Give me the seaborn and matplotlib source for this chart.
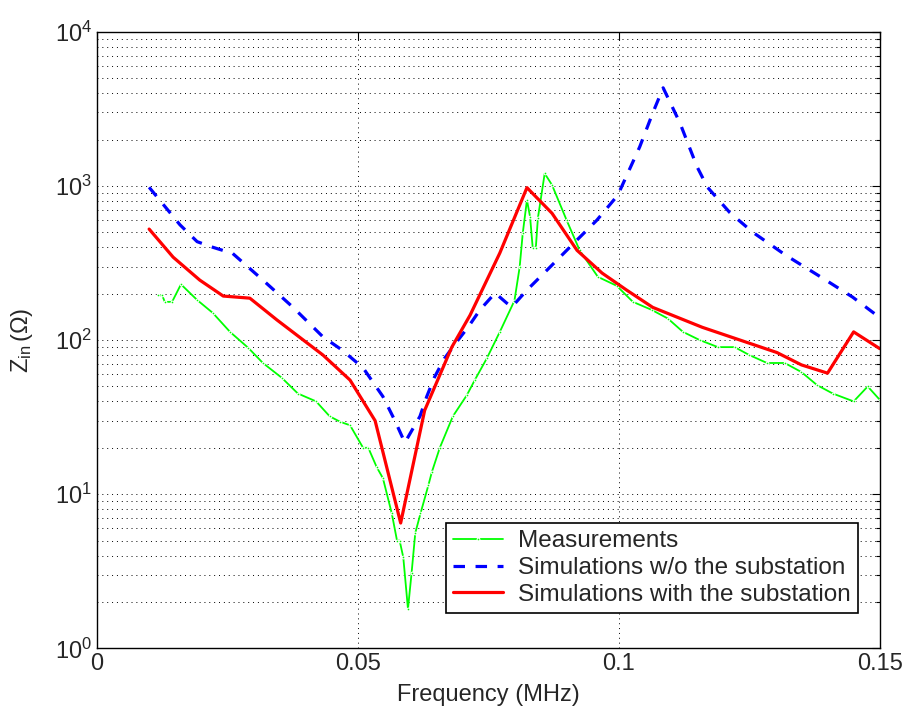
import numpy as np
import pandas as pd
import seaborn as sns
import matplotlib
matplotlib.use("Agg")
import matplotlib.pyplot as plt
from matplotlib.ticker import FixedLocator, LogLocator, NullFormatter

# Measured input impedance (MHz, Ohm)
meas_f = [0.0117, 0.0125, 0.0130, 0.0144, 0.0161, 0.0192, 0.0222, 0.0255, 0.0290,
          0.0318, 0.0354, 0.0385, 0.0420, 0.0446, 0.0466, 0.0485, 0.0510, 0.0520,
          0.0536, 0.0548, 0.0565, 0.0575, 0.0580, 0.0587, 0.0596, 0.0603, 0.0610,
          0.0620, 0.0635, 0.0642, 0.0657, 0.0682, 0.0709, 0.0724, 0.0747, 0.0772,
          0.0800, 0.0810, 0.0816, 0.0824, 0.0830, 0.0835, 0.0841, 0.0845, 0.0858,
          0.0872, 0.0900, 0.0925, 0.0960, 0.0996, 0.1027, 0.1063, 0.1094, 0.1123,
          0.1155, 0.1190, 0.1222, 0.1250, 0.1284, 0.1318, 0.1350, 0.1380, 0.1410,
          0.1450, 0.1477, 0.1500]
meas_z = [195, 195, 177, 177, 230, 182, 150, 113, 89,
          71, 57, 45, 40, 32, 29.5, 28, 20, 20,
          15, 12.7, 7.5, 5.0, 5.0, 3.9, 1.8, 3.1, 5.6,
          7.5, 11.4, 14, 20, 32, 44, 55, 76, 113,
          180, 297, 495, 810, 630, 398, 398, 620, 1205,
          1015, 600, 382, 257, 225, 177, 157, 138, 113,
          100, 90, 90, 80, 71, 71, 62, 51, 45,
          40, 50, 41]

# Simulation without the substation
sim_wo_f = [0.0100, 0.0159, 0.0192, 0.0222, 0.0260, 0.0318, 0.0375, 0.0433, 0.0470,
            0.0510, 0.0548, 0.0571, 0.0590, 0.0619, 0.0632, 0.0647, 0.0666, 0.0689,
            0.0711, 0.0734, 0.0763, 0.0785, 0.0795, 0.0824, 0.0868, 0.0906, 0.0958,
            0.0998, 0.1040, 0.1065, 0.1085, 0.1117, 0.1150, 0.1170, 0.1213, 0.1257,
            0.1320, 0.1390, 0.1448, 0.1500]
sim_wo_z = [980, 560, 435, 400, 365, 245, 164, 105, 86,
            66, 43, 30, 21.6, 32, 43, 57.6, 76, 97,
            121, 157, 202, 174, 164, 211, 297, 400, 600,
            870, 1790, 2970, 4330, 2570, 1330, 980, 670, 500,
            355, 253, 190, 140]

# Simulation with the substation
sim_w_f = [0.0100, 0.0146, 0.0197, 0.0242, 0.0293, 0.0345, 0.0433, 0.0485, 0.0533,
           0.0582, 0.0628, 0.0680, 0.0715, 0.0772, 0.0824, 0.0872, 0.0920, 0.0968,
           0.1015, 0.1065, 0.1160, 0.1303, 0.1350, 0.1400, 0.1450, 0.1500]
sim_w_z = [525, 345, 245, 193, 187, 135, 80, 55, 30,
           6.5, 35, 90, 145, 367, 975, 665, 382, 272,
           211, 163, 121, 83, 69, 61, 113, 88]

sns.set_style("white")
plt.rcParams["font.family"] = ["Liberation Sans", "DejaVu Sans"]
plt.rcParams["mathtext.fontset"] = "custom"
plt.rcParams["mathtext.rm"] = "Liberation Sans"
plt.rcParams["mathtext.it"] = "Liberation Sans:italic"

fig = plt.figure(figsize=(9.06, 7.07), dpi=100)
ax = fig.add_axes([0.107, 0.083, 0.864, 0.872])

sns.lineplot(x=meas_f, y=meas_z, ax=ax, color=(0, 1, 0), lw=1.3,
             marker=".", markersize=4, label="Measurements",
             sort=False, estimator=None)
sns.lineplot(x=sim_wo_f, y=sim_wo_z, ax=ax, color=(0, 0, 1), lw=2.3,
             label="Simulations w/o the substation",
             sort=False, estimator=None)
ax.lines[-1].set_linestyle((0, (3.6, 3.3)))
sns.lineplot(x=sim_w_f, y=sim_w_z, ax=ax, color=(1, 0, 0), lw=2.3,
             label="Simulations with the substation",
             sort=False, estimator=None)

ax.set_yscale("log")
ax.set_xlim(0, 0.15)
ax.set_ylim(1, 1e4)
ax.xaxis.set_major_locator(FixedLocator([0, 0.05, 0.1, 0.15]))
ax.set_xticklabels(["0", "0.05", "0.1", "0.15"])
ax.yaxis.set_major_locator(LogLocator(base=10, numticks=10))
ax.yaxis.set_minor_locator(LogLocator(base=10, subs=np.arange(2, 10), numticks=20))
ax.yaxis.set_minor_formatter(NullFormatter())

ax.grid(True, which="major", axis="both", color="black", ls=(0, (1, 4)), lw=0.7)
ax.grid(True, which="minor", axis="y", color="black", ls=(0, (1, 4)), lw=0.7)
ax.tick_params(which="both", direction="in", top=True, right=True,
               labelsize=17, color="black", width=0.8)
ax.tick_params(which="major", length=6)
ax.tick_params(which="minor", length=3)
for s in ax.spines.values():
    s.set_visible(True)
    s.set_color("black")
    s.set_linewidth(1.0)

ax.set_xlabel("Frequency (MHz)", fontsize=17, labelpad=6)
ax.set_ylabel(r"$\mathrm{Z}_{\mathrm{in}}\,(\Omega)$", fontsize=17, labelpad=14)

leg = ax.legend(loc="lower right", bbox_to_anchor=(0.972, 0.057), fontsize=17.5,
                frameon=True, fancybox=False, framealpha=1, edgecolor="black",
                handlelength=2.05, borderpad=0.3, labelspacing=0.2,
                handletextpad=0.62, borderaxespad=0)
leg.get_frame().set_linewidth(1.2)

fig.savefig("out.png", dpi=100)
